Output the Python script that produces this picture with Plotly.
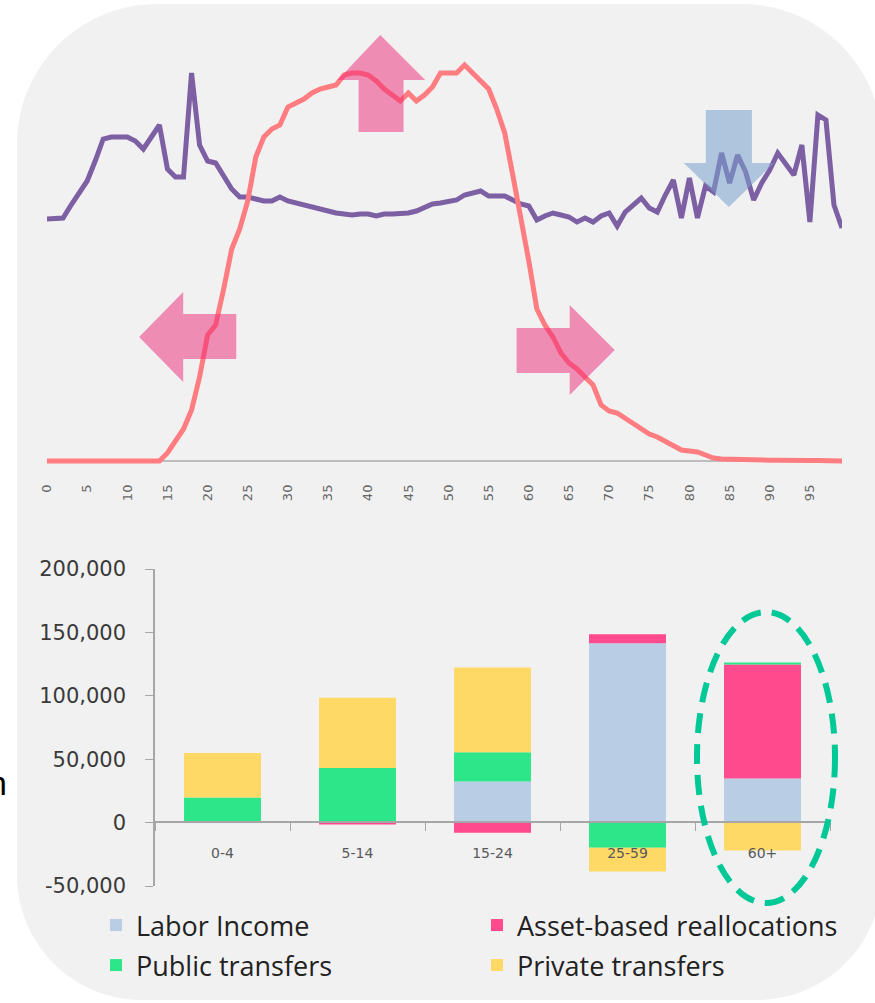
import plotly.graph_objects as go

W, H = 875, 1003

# ---- Age profiles (upper panel) ----
ages = list(range(0, 100))

labor_profile = [
    0, 0, 0, 0, 0, 0, 0, 0, 0, 0,
    0, 0, 0, 0, 0, 2, 4.75, 8, 12.75, 21,
    31.5, 34, 43, 53, 58, 65, 76, 81, 83, 84,
    88.5, 89.5, 90.5, 92, 93, 93.5, 94, 96.5, 97, 97,
    96.5, 95, 93, 91.5, 90, 92, 90, 91.5, 93.5, 97,
    97, 97, 99, 97, 95, 93, 88, 82, 71.5, 61,
    50, 38, 34, 31, 27, 24.5, 23, 21, 19, 14,
    12.5, 12, 10.75, 9.5, 8, 6.75, 6, 5, 3.75, 2.75,
    2.5, 2.25, 1.5, 0.75, 0.5, 0.4, 0.3, 0.3, 0.2, 0.3,
    0.2, 0.2, 0.1, 0.2, 0.1, 0.1, 0.1, 0, 0, 0,
]

consumption_profile = [
    60.5, 60.5, 60.75, 64, 67, 70, 75, 80.5, 81, 81,
    81, 80, 78, 81, 84, 73, 71, 71, 97, 79,
    75, 74.5, 71, 68, 66, 66, 65.5, 65, 65, 66,
    65, 64.5, 64, 63.5, 62.75, 62.25, 62, 61.75, 61.5, 61.75,
    61.75, 61.25, 61.75, 61.75, 61.75, 62, 62.5, 63.5, 64.25, 64.5,
    65, 65.25, 66.5, 67, 67.5, 66.25, 66.25, 66.25, 65.25, 64.25,
    63.75, 60.25, 61.25, 62, 61.5, 61, 59.75, 60.75, 59.75, 61.25,
    62, 58.75, 62.25, 64, 65.75, 63.25, 62.25, 66.5, 70.25, 60.75,
    70.75, 60.75, 68.75, 67.25, 77, 69.5, 76.5, 72.25, 65.25, 69.5,
    72.75, 77, 74, 71.5, 79, 59.75, 86.5, 85.25, 64, 58.25,
]

age_ticks = list(range(0, 100, 5))

# ---- Lifecycle deficit financing by age group (lower panel) ----
age_groups = ["0-4", "5-14", "15-24", "25-59", "60+"]
labor_income = [0, 0, 32400, 141500, 34700]
asset_based = [0, -1500, -8000, 7000, 90000]
public_transfers = [19800, 43000, 23000, -19800, 1600]
private_transfers = [35000, 55500, 67000, -18800, -22000]

value_ticks = [-50000, 0, 50000, 100000, 150000, 200000]
value_tick_text = ["-50,000", "0", "50,000", "100,000", "150,000", "200,000"]


def px_x(p):
    return p / W


def px_y(p):
    return 1 - p / H


def rounded_panel(l, t, r, b, rtl, rtr, rbr, rbl):
    k = 0.5523
    pts = []
    pts.append(f"M {px_x(l + rtl)},{px_y(t)}")
    pts.append(f"L {px_x(r - rtr)},{px_y(t)}")
    pts.append(f"C {px_x(r - rtr + k * rtr)},{px_y(t)} {px_x(r)},{px_y(t + rtr - k * rtr)} {px_x(r)},{px_y(t + rtr)}")
    pts.append(f"L {px_x(r)},{px_y(b - rbr)}")
    pts.append(f"C {px_x(r)},{px_y(b - rbr + k * rbr)} {px_x(r - rbr + k * rbr)},{px_y(b)} {px_x(r - rbr)},{px_y(b)}")
    pts.append(f"L {px_x(l + rbl)},{px_y(b)}")
    pts.append(f"C {px_x(l + rbl - k * rbl)},{px_y(b)} {px_x(l)},{px_y(b - rbl + k * rbl)} {px_x(l)},{px_y(b - rbl)}")
    pts.append(f"L {px_x(l)},{px_y(t + rtl)}")
    pts.append(f"C {px_x(l)},{px_y(t + rtl - k * rtl)} {px_x(l + rtl - k * rtl)},{px_y(t)} {px_x(l + rtl)},{px_y(t)}")
    pts.append("Z")
    return " ".join(pts)


def poly(points):
    return "M " + " L ".join(f"{x},{y}" for x, y in points) + " Z"


fig = go.Figure()

fig.add_trace(go.Scatter(
    x=ages, y=consumption_profile, mode="lines",
    line=dict(color="#7D5FA3", width=5), showlegend=False,
    xaxis="x", yaxis="y", hoverinfo="skip",
))
fig.add_trace(go.Scatter(
    x=ages, y=labor_profile, mode="lines",
    line=dict(color="#FF7C80", width=5), showlegend=False,
    xaxis="x", yaxis="y", hoverinfo="skip",
))

# one legend box per series so the 2x2 key sits exactly in place
bar_specs = [
    ("Labor Income", labor_income, "#B9CDE5", "legend"),
    ("Asset-based reallocations", asset_based, "#FF4A8D", "legend2"),
    ("Public transfers", public_transfers, "#2EE68A", "legend3"),
    ("Private transfers", private_transfers, "#FFD966", "legend4"),
]
for name, vals, color, lg in bar_specs:
    fig.add_trace(go.Bar(
        x=age_groups, y=vals, name=name, marker=dict(color=color, line=dict(width=0)),
        xaxis="x2", yaxis="y2", legend=lg,
    ))

# Arrows marking the direction of change, in age / profile units
up_arrow = [(38.8, 82.25), (44.4, 82.25), (44.4, 95.25), (47.1, 95.25),
            (41.5, 106.5), (36.2, 95.25), (38.8, 95.25)]
left_arrow = [(23.57, 36.75), (16.96, 36.75), (16.96, 42.25), (11.47, 31),
              (16.96, 19.75), (16.96, 25.5), (23.57, 25.5)]
right_arrow = [(58.48, 33.25), (65.09, 33.25), (65.09, 39), (70.7, 27.75),
               (65.09, 16.5), (65.09, 22), (58.48, 22)]
down_arrow = [(82.04, 87.75), (87.78, 87.75), (87.78, 74.5), (90.52, 74.5),
              (84.91, 63.5), (79.3, 74.5), (82.04, 74.5)]

shapes = [
    dict(type="path", xref="paper", yref="paper", layer="below",
         path=rounded_panel(17, 4, 882, 1000, 140, 140, 125, 125),
         fillcolor="#F1F1F1", line=dict(width=0)),
]
for pts in (up_arrow, left_arrow, right_arrow):
    shapes.append(dict(type="path", xref="x", yref="y", layer="above", path=poly(pts),
                       fillcolor="rgba(238,40,120,0.5)", line=dict(width=0)))
shapes.append(dict(type="path", xref="x", yref="y", layer="above", path=poly(down_arrow),
                   fillcolor="rgba(120,160,205,0.55)", line=dict(width=0)))
shapes.append(dict(type="circle", xref="paper", yref="paper", layer="above",
                   x0=px_x(697), x1=px_x(835), y0=px_y(903), y1=px_y(612),
                   line=dict(color="#00C896", width=6, dash="20px,11px")))

legend_font = dict(family="Open Sans", size=27, color="#222222")


def key(x_px, y_px):
    return dict(
        orientation="h", x=px_x(x_px), y=px_y(y_px), xanchor="left", yanchor="top",
        bgcolor="rgba(0,0,0,0)", borderwidth=0, font=legend_font,
        itemclick=False, itemdoubleclick=False,
    )


fig.update_layout(
    width=W, height=H,
    margin=dict(l=0, r=0, t=0, b=0, autoexpand=False),
    paper_bgcolor="white", plot_bgcolor="rgba(0,0,0,0)",
    barmode="relative", bargap=0.43,
    shapes=shapes,
    xaxis=dict(
        domain=[px_x(47), px_x(842)], range=[0, 99], anchor="y",
        tickmode="array", tickvals=age_ticks, ticktext=[str(a) for a in age_ticks],
        tickangle=-90, tickfont=dict(family="DejaVu Sans", size=13, color="#666666"),
        showgrid=False, zeroline=False, showline=False, ticks="",
        ticklabelstandoff=16,
    ),
    yaxis=dict(
        domain=[px_y(465), px_y(21)], range=[-1, 110], anchor="x",
        showticklabels=False, showgrid=False, ticks="",
        zeroline=True, zerolinecolor="#BDBDBD", zerolinewidth=2,
    ),
    xaxis2=dict(
        domain=[px_x(155), px_x(830)], range=[-0.5, 4.5], type="category",
        anchor="free", position=px_y(822),
        showline=True, linecolor="#A6A6A6", linewidth=1.5,
        ticks="outside", tickson="boundaries", ticklen=8, tickcolor="#A6A6A6",
        tickfont=dict(family="DejaVu Sans", size=14, color="#595959"),
        ticklabelstandoff=18, showgrid=False, zeroline=False,
    ),
    yaxis2=dict(
        domain=[px_y(886), px_y(569)], range=[-50000, 200000], anchor="x2",
        tickmode="array", tickvals=value_ticks, ticktext=value_tick_text,
        showline=True, linecolor="#A6A6A6", linewidth=1.5,
        ticks="outside", ticklen=8, tickcolor="#A6A6A6",
        tickfont=dict(family="DejaVu Sans", size=21, color="#3A3A3A"),
        ticklabelstandoff=15, showgrid=False, zeroline=False,
    ),
    legend=key(96, 901),
    legend2=key(477, 901),
    legend3=key(96, 941),
    legend4=key(477, 941),
    annotations=[
        dict(text="n", xref="paper", yref="paper", x=px_x(9), y=px_y(783),
             xanchor="right", yanchor="middle", showarrow=False,
             font=dict(family="Liberation Sans", size=34, color="#000000")),
    ],
)

fig.write_html("out.html", post_script="document.body.style.margin='0px';")
